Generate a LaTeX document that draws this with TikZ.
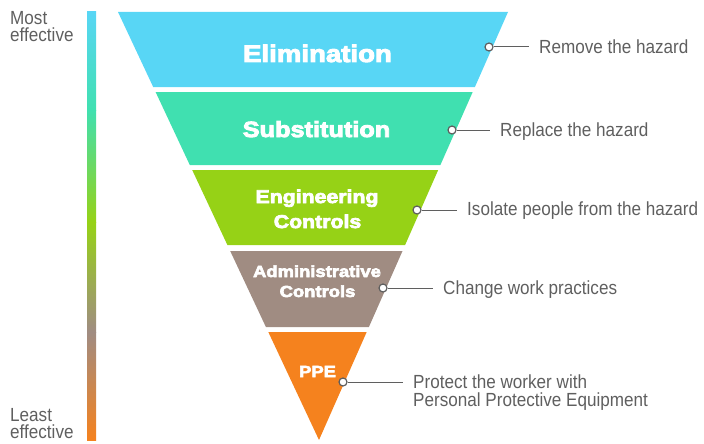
\documentclass[tikz,border=0pt]{standalone}
\usepackage{fontspec}
\setmainfont{Liberation Sans}
\newfontfamily\labfont[FakeStretch=1.15,FakeBold=4]{Liberation Sans Bold}
\newfontfamily\descfont[FakeStretch=0.9]{Liberation Sans}
\definecolor{cElim}{RGB}{88,214,245}
\definecolor{cSubs}{RGB}{64,224,176}
\definecolor{cEng}{RGB}{150,210,22}
\definecolor{cAdm}{RGB}{160,140,130}
\definecolor{cPPE}{RGB}{245,130,30}
\definecolor{txtgray}{RGB}{95,95,95}
\definecolor{linegray}{RGB}{95,95,95}
\tikzset{
  lab/.style={text=white, inner sep=0pt, anchor=base},
  desc/.style={text=txtgray, inner sep=0pt, anchor=base west, font=\descfont\fontsize{19}{21}\selectfont},
  twoline/.style={text=txtgray, inner sep=0pt, anchor=north west, align=left, font=\descfont\fontsize{19}{17.5}\selectfont},
  dot/.style={circle, draw=linegray, fill=white, line width=1.2pt, minimum size=8pt, inner sep=0pt},
  conn/.style={draw=linegray, line width=1pt, shorten >=10pt}
}
\begin{document}
\begin{tikzpicture}[x=1pt,y=-1pt]
\useasboundingbox (0,0) rectangle (704,444);
% gradient bar
\shade[top color=cElim, bottom color=cSubs] (87,12) rectangle (96,110);
\shade[top color=cSubs, bottom color=cEng] (87,110) rectangle (96,222);
\shade[top color=cEng, bottom color=cAdm] (87,222) rectangle (96,332);
\shade[top color=cAdm, bottom color=cPPE] (87,332) rectangle (96,440);
% side texts
\node[twoline] (most) at (10,11) {Most\\effective};
\node[twoline] (least) at (10,408) {Least\\effective};
% bands
\fill[cElim] (118,12) -- (508,12) -- (474.9,87) -- (153.2,87) -- cycle;
\fill[cSubs] (155.6,92) -- (472.7,92) -- (440.4,165) -- (189.8,165) -- cycle;
\fill[cEng] (192.2,170) -- (438.2,170) -- (405.1,245) -- (227.4,245) -- cycle;
\fill[cAdm] (230.2,251) -- (402.5,251) -- (368.9,327) -- (265.9,327) -- cycle;
\fill[cPPE] (268.3,332) -- (366.7,332) -- (319,440) -- cycle;
% band labels
\node[lab, font=\labfont\fontsize{24}{24}\selectfont] (elim) at (317.5,62) {Elimination};
\node[lab, font=\labfont\fontsize{22}{22}\selectfont] (subs) at (316.5,137) {Substitution};
\node[lab, font=\labfont\fontsize{18.5}{18.5}\selectfont] (engA) at (317,203) {Engineering};
\node[lab, font=\labfont\fontsize{18.5}{18.5}\selectfont] (engB) at (317.5,228) {Controls};
\node[lab, font=\labfont\fontsize{16}{16}\selectfont] (admA) at (317,277) {Administrative};
\node[lab, font=\labfont\fontsize{16}{16}\selectfont] (admB) at (317.5,297) {Controls};
\node[lab, font=\labfont\fontsize{16}{16}\selectfont] (ppe) at (317.5,377) {PPE};
% dots
\node[dot] (d1) at (489,47) {};
\node[dot] (d2) at (452,130) {};
\node[dot] (d3) at (417,210) {};
\node[dot] (d4) at (383,288) {};
\node[dot] (d5) at (343,382) {};
% descriptions
\node[desc] (t1) at (539,54) {Remove the hazard};
\node[desc] (t2) at (500,136) {Replace the hazard};
\node[desc] (t3) at (467,215) {Isolate people from the hazard};
\node[desc] (t4) at (443,294) {Change work practices};
\node[twoline] (t5) at (413,375) {Protect the worker with\\Personal Protective Equipment};
% connectors
\draw[conn] (d1) -- (d1 -| t1.west);
\draw[conn] (d2) -- (d2 -| t2.west);
\draw[conn] (d3) -- (d3 -| t3.west);
\draw[conn] (d4) -- (d4 -| t4.west);
\draw[conn] (d5) -- (d5 -| t5.west);
\end{tikzpicture}
\end{document}
